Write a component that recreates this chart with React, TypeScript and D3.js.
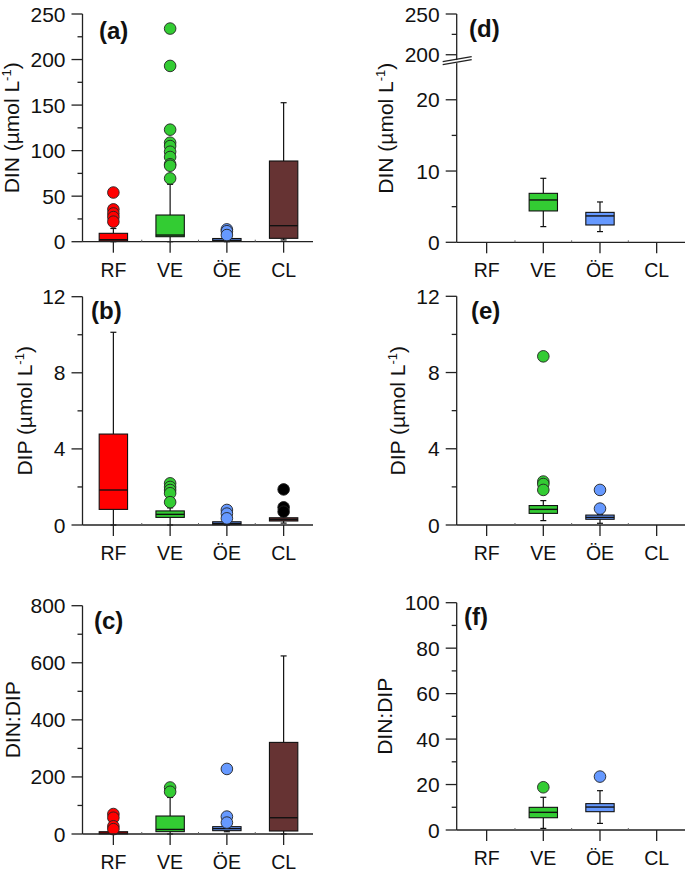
import React from "react";
import * as d3 from "d3";

const categories = ["RF", "VE", "ÖE", "CL"];
const boxFills = ["#ff0000", "#33cc33", "#6699ff", "#663333"];
const outlierFillsDefault = ["#ff0000", "#33cc33", "#6699ff", "#663333"];
const outlierFillsDip = ["#ff0000", "#33cc33", "#6699ff", "#000000"];

type Box = { lo: number; q1: number; med: number; q3: number; hi: number; out: number[] } | null;

// (a) DIN, all sites
const dinAll: Box[] = [
  { lo: 0, q1: 0.9, med: 2.2, q3: 9.2, hi: 14.5, out: [54, 35.5, 31, 27, 22] },
  { lo: 0, q1: 5.5, med: 7.3, q3: 29.3, hi: 63, out: [234, 193, 123, 108.7, 105, 98.8, 93, 85, 83.4, 69.5] },
  { lo: 0, q1: 0.4, med: 1.5, q3: 3.5, hi: 5, out: [13.5, 11.5, 7.3] },
  { lo: 1.9, q1: 3.7, med: 17.6, q3: 88.6, hi: 152.6, out: [] },
];
// (b) DIP, all sites
const dipAll: Box[] = [
  { lo: 0, q1: 0.82, med: 1.84, q3: 4.78, hi: 10.13, out: [] },
  { lo: 0, q1: 0.4, med: 0.56, q3: 0.74, hi: 0.9, out: [2.19, 2.0, 1.84, 1.67, 1.2] },
  { lo: 0, q1: 0.02, med: 0.08, q3: 0.17, hi: 0.25, out: [0.79, 0.6, 0.35] },
  { lo: 0.1, q1: 0.21, med: 0.29, q3: 0.38, hi: 0.45, out: [1.87, 0.93, 0.7] },
];
// (c) DIN:DIP, all sites
const ratioAll: Box[] = [
  { lo: 0, q1: 0.5, med: 3, q3: 8, hi: 12, out: [70, 57, 27, 17] },
  { lo: 0, q1: 8.2, med: 16, q3: 63, hi: 128, out: [163, 148] },
  { lo: 8, q1: 11.7, med: 18.7, q3: 25.7, hi: 35, out: [228, 61, 40] },
  { lo: 0, q1: 10.5, med: 57, q3: 321, hi: 624, out: [] },
];
// (d) DIN, subset
const dinSub: Box[] = [
  null,
  { lo: 2.2, q1: 4.4, med: 5.94, q3: 6.87, hi: 8.98, out: [] },
  { lo: 1.5, q1: 2.43, med: 3.7, q3: 4.2, hi: 5.66, out: [] },
  null,
];
// (e) DIP, subset
const dipSub: Box[] = [
  null,
  { lo: 0.23, q1: 0.61, med: 0.82, q3: 1.02, hi: 1.28, out: [8.85, 2.28, 2.15, 1.84] },
  { lo: 0.09, q1: 0.3, med: 0.4, q3: 0.52, hi: 0.56, out: [1.84, 0.86] },
  null,
];
// (f) DIN:DIP, subset
const ratioSub: Box[] = [
  null,
  { lo: 0.7, q1: 5.4, med: 7.77, q3: 9.97, hi: 14.4, out: [18.8] },
  { lo: 2.9, q1: 8.06, med: 10.1, q3: 11.6, hi: 17.3, out: [23.5] },
  null,
];

const ticksA = [0, 50, 100, 150, 200, 250];
const minorA = [25, 75, 125, 175, 225];
const ticksB = [0, 4, 8, 12];
const minorB = [2, 6, 10];
const ticksC = [0, 200, 400, 600, 800];
const minorC = [100, 300, 500, 700];
const ticksD = [0, 10, 20, 200, 250];
const minorD = [5, 15, 225];
const ticksF = [0, 20, 40, 60, 80, 100];
const minorF = [10, 30, 50, 70, 90];

const FONT = "'Liberation Sans', Arial, Helvetica, sans-serif";
const AX = "#222";

type Panel = {
  tag: string;
  tagX: number;
  tagY: number;
  data: Box[];
  outFills: string[];
  axisX: number;
  xStart: number;
  xEnd: number;
  domain: number[];
  range: number[];
  ticks: number[];
  minor: number[];
  label: string;
  sup: boolean;
  labelX: number;
  brk?: number;
};

const panels: Panel[] = [
  { tag: "(a)", tagX: 99, tagY: 39, data: dinAll, outFills: outlierFillsDefault, axisX: 82.5, xStart: 85, xEnd: 312, domain: [0, 250], range: [241.7, 14], ticks: ticksA, minor: minorA, label: "DIN (µmol L", sup: true, labelX: 19 },
  { tag: "(b)", tagX: 91, tagY: 319, data: dipAll, outFills: outlierFillsDip, axisX: 82.5, xStart: 85, xEnd: 312, domain: [0, 12], range: [525, 296.7], ticks: ticksB, minor: minorB, label: "DIP (µmol L", sup: true, labelX: 32 },
  { tag: "(c)", tagX: 94, tagY: 629, data: ratioAll, outFills: outlierFillsDefault, axisX: 82.5, xStart: 85, xEnd: 312, domain: [0, 800], range: [834, 605.7], ticks: ticksC, minor: minorC, label: "DIN:DIP", sup: false, labelX: 19.5 },
  { tag: "(d)", tagX: 469, tagY: 37, data: dinSub, outFills: outlierFillsDefault, axisX: 456.7, xStart: 458.3, xEnd: 685, domain: [0, 25.3, 196, 250], range: [242.3, 62, 58, 14], ticks: ticksD, minor: minorD, label: "DIN (µmol L", sup: true, labelX: 392.5, brk: 60 },
  { tag: "(e)", tagX: 471, tagY: 319, data: dipSub, outFills: outlierFillsDefault, axisX: 456.7, xStart: 458.3, xEnd: 685, domain: [0, 12], range: [525, 296.3], ticks: ticksB, minor: minorB, label: "DIP (µmol L", sup: true, labelX: 404.5 },
  { tag: "(f)", tagX: 464, tagY: 625, data: ratioSub, outFills: outlierFillsDefault, axisX: 456.7, xStart: 458.3, xEnd: 685, domain: [0, 100], range: [830, 602.7], ticks: ticksF, minor: minorF, label: "DIN:DIP", sup: false, labelX: 391.5 },
];

function PanelView({ p }: { p: Panel }) {
  const x = d3.scaleBand<string>().domain(categories).range([p.xStart, p.xEnd]).padding(0);
  const y = d3.scaleLinear().domain(p.domain).range(p.range);
  const bw = x.bandwidth() * 0.5;
  const y0 = y(0);
  const yTop = y(p.domain[p.domain.length - 1]);
  const midY = (y0 + yTop) / 2;
  const cap = 6;

  return (
    <g>
      {p.data.map((b, i) => {
        if (!b) return null;
        const cx = (x(categories[i]) as number) + x.bandwidth() / 2;
        return (
          <g key={"b" + i}>
            <line x1={cx} x2={cx} y1={y(b.hi)} y2={y(b.q3)} stroke="#111" strokeWidth={1.2} />
            <line x1={cx} x2={cx} y1={y(b.q1)} y2={y(b.lo)} stroke="#111" strokeWidth={1.2} />
            <line x1={cx - cap / 2} x2={cx + cap / 2} y1={y(b.hi)} y2={y(b.hi)} stroke="#111" strokeWidth={1.2} />
            <line x1={cx - cap / 2} x2={cx + cap / 2} y1={y(b.lo)} y2={y(b.lo)} stroke="#111" strokeWidth={1.2} />
            <rect x={cx - bw / 2} width={bw} y={y(b.q3)} height={Math.max(y(b.q1) - y(b.q3), 1)} fill={boxFills[i]} stroke="#111" strokeWidth={1.1} />
            <line x1={cx - bw / 2} x2={cx + bw / 2} y1={y(b.med)} y2={y(b.med)} stroke="#111" strokeWidth={1.4} />
          </g>
        );
      })}
      {p.data.map((b, i) => {
        if (!b) return null;
        const cx = (x(categories[i]) as number) + x.bandwidth() / 2;
        return b.out.map((v, j) => (
          <circle key={"o" + i + "-" + j} cx={cx} cy={y(v)} r={5.8} fill={p.outFills[i]} stroke="#222" strokeWidth={0.9} />
        ));
      })}
      <line x1={p.axisX} x2={p.xEnd + 1} y1={y0} y2={y0} stroke={AX} strokeWidth={1.3} />
      {categories.map((c, i) => {
        const cx = (x(c) as number) + x.bandwidth() / 2;
        return (
          <g key={"xt" + i}>
            <line x1={cx} x2={cx} y1={y0} y2={y0 + 11} stroke={AX} strokeWidth={1.3} />
            <text x={cx} y={y0 + 35} textAnchor="middle" fontFamily={FONT} fontSize={19.5} fill="#111">{c}</text>
          </g>
        );
      })}
      {categories.slice(1).map((c, i) => {
        const bx = x(c) as number;
        return <line key={"bd" + i} x1={bx} x2={bx} y1={y0} y2={y0 - 2} stroke="#666" strokeWidth={1} />;
      })}
      <line x1={p.axisX} x2={p.axisX} y1={y0} y2={yTop} stroke={AX} strokeWidth={1.3} />
      {p.ticks.map((t, i) => (
        <g key={"yt" + i}>
          <line x1={p.axisX - 11} x2={p.axisX} y1={y(t)} y2={y(t)} stroke={AX} strokeWidth={1.3} />
          <text x={p.axisX - 17} y={y(t)} dy="0.36em" textAnchor="end" fontFamily={FONT} fontSize={21} fill="#111">{t}</text>
        </g>
      ))}
      {p.minor.map((t, i) => (
        <line key={"ym" + i} x1={p.axisX - 5} x2={p.axisX} y1={y(t)} y2={y(t)} stroke={AX} strokeWidth={1.3} />
      ))}
      {p.brk !== undefined ? (
        <g>
          <polygon points={`${p.axisX - 14},${p.brk + 2.4} ${p.axisX + 15},${p.brk - 2.6} ${p.axisX + 15},${p.brk + 0.4} ${p.axisX - 14},${p.brk + 5.4}`} fill="#fff" />
          <line x1={p.axisX - 14} x2={p.axisX + 15} y1={p.brk + 1.6} y2={p.brk - 3.4} stroke={AX} strokeWidth={1.4} />
          <line x1={p.axisX - 14} x2={p.axisX + 15} y1={p.brk + 4.6} y2={p.brk - 0.4} stroke={AX} strokeWidth={1.4} />
        </g>
      ) : null}
      <text transform={`translate(${p.labelX},${midY}) rotate(-90)`} textAnchor="middle" fontFamily={FONT} fontSize={21} fill="#111">
        {p.label}
        {p.sup ? (
          <>
            <tspan fontSize={13} dy={-8}>-1</tspan>
            <tspan dy={8}>)</tspan>
          </>
        ) : null}
      </text>
      <text x={p.tagX} y={p.tagY} fontFamily={FONT} fontSize={24} fontWeight="bold" fill="#111">{p.tag}</text>
    </g>
  );
}

export default function App() {
  return (
    <svg width={685} height={875} style={{ position: "absolute", left: 0, top: 0, background: "#fff" }}>
      <rect x={0} y={0} width={685} height={875} fill="#fff" />
      {panels.map((p) => (
        <PanelView key={p.tag} p={p} />
      ))}
    </svg>
  );
}
